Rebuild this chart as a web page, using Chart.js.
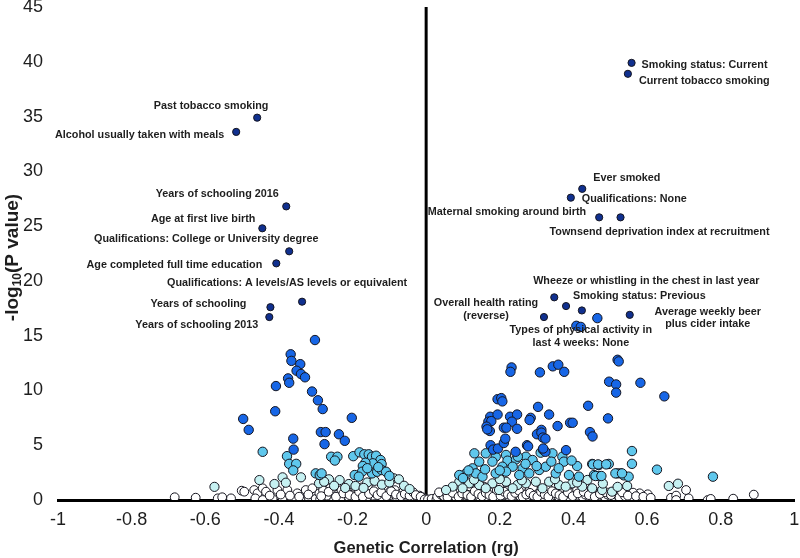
<!DOCTYPE html>
<html>
<head>
<meta charset="utf-8">
<script src="https://cdn.jsdelivr.net/npm/chart.js@4/dist/chart.umd.min.js"></script>
<style>
html,body{margin:0;padding:0;background:#fff;}
#wrap{width:800px;height:558px;}
</style>
</head>
<body>
<div id="wrap"><canvas id="c" width="800" height="558"></canvas></div>
<script>
// ---------- data ----------
const xTicks = [-1, -0.8, -0.6, -0.4, -0.2, 0, 0.2, 0.4, 0.6, 0.8, 1];
const xTickLabels = ["-1", "-0.8", "-0.6", "-0.4", "-0.2", "0", "0.2", "0.4", "0.6", "0.8", "1"];
const yTicks = [0, 5, 10, 15, 20, 25, 30, 35, 40, 45];
const yTickLabels = ["0", "5", "10", "15", "20", "25", "30", "35", "40", "45"];

const xTitle = "Genetic Correlation (rg)";
const yTitleParts = ["-log", "10", "(P value)"];

// labelled, most significant traits
const navyLabels = [
  "Past tobacco smoking", "Alcohol usually taken with meals", "Years of schooling 2016",
  "Age at first live birth", "Qualifications: College or University degree",
  "Age completed full time education", "Qualifications: A levels/AS levels or equivalent",
  "Years of schooling", "Years of schooling 2013",
  "Smoking status: Current", "Current tobacco smoking", "Ever smoked", "Qualifications: None",
  "Maternal smoking around birth", "Townsend deprivation index at recruitment",
  "Wheeze or whistling in the chest in last year", "Smoking status: Previous",
  "Overall health rating\n(reverse)", "Types of physical activity in\nlast 4 weeks: None",
  "Average weekly beer\nplus cider intake"
];
const navyX = [-0.459,-0.516,-0.380,-0.445,-0.372,-0.407,-0.337,-0.423,-0.426,
  0.558,0.548,0.424,0.393,0.470,0.528,0.348,0.380,0.320,0.423,0.553];
const navyY = [34.9,33.6,26.8,24.8,22.7,21.6,18.1,17.6,16.7,
  39.9,38.9,28.4,27.6,25.8,25.8,18.5,17.7,16.7,17.3,16.9];

const bluePts = [
  [-0.302,14.6],[-0.368,13.3],[-0.366,12.7],[-0.342,12.4],[-0.352,11.8],[-0.340,11.5],[-0.329,11.2],
  [-0.375,11.1],[-0.372,10.7],[-0.408,10.4],[-0.310,9.9],[-0.294,9.1],[-0.281,8.3],[-0.410,8.1],
  [-0.497,7.4],[-0.482,6.4],[-0.202,7.5],[-0.361,5.6],[-0.360,4.6],[-0.286,6.2],[-0.273,6.2],
  [-0.276,5.1],[-0.237,6.0],[-0.221,5.4],
  [0.465,16.6],[0.408,15.9],[0.420,15.8],
  [0.232,12.1],[0.229,11.7],[0.309,11.65],[0.344,12.2],[0.359,12.35],[0.375,11.7],[0.520,12.8],
  [0.523,12.65],[0.497,10.8],[0.516,10.55],[0.516,9.8],[0.194,9.2],[0.204,9.3],[0.207,9.0],
  [0.304,8.5],[0.440,8.6],[0.174,7.6],[0.194,7.8],[0.228,7.6],[0.247,7.8],[0.284,7.5],[0.334,7.8],
  [0.169,7.15],[0.177,7.2],[0.233,7.15],[0.391,7.05],[0.398,7.05],[0.494,7.45],[0.164,6.7],
  [0.211,6.6],[0.218,6.6],[0.247,6.5],[0.357,6.75],[0.313,6.4],[0.582,10.7],[0.647,9.46],
  [0.173,6.3],[0.166,6.45],[0.281,7.3],[0.301,6.0],[0.313,6.15],[0.317,5.7],[0.324,5.6],
  [0.445,6.2],[0.452,5.8],[0.175,5.0],[0.182,4.6],[0.195,4.7],[0.211,5.2],[0.215,5.6],
  [0.243,4.4],[0.274,5.0],[0.277,4.9],[0.317,4.6],[0.324,4.4],[0.380,4.55],[0.318,4.7]
];

const cyanPts = [
  [-0.444,4.4],[-0.378,4.0],[-0.372,3.3],[-0.353,3.3],[-0.361,2.7],[-0.258,3.95],[-0.241,3.95],
  [-0.248,3.6],[-0.198,4.0],[-0.181,4.35],[-0.168,4.17],[-0.156,4.17],[-0.147,3.95],[-0.136,4.04],
  [-0.124,3.65],[-0.121,3.28],[-0.145,3.35],[-0.165,3.4],[-0.172,3.1],[-0.147,2.43],[-0.133,2.58],
  [-0.121,2.74],[-0.109,2.58],[-0.174,2.58],[-0.194,2.28],[-0.183,2.13],[-0.300,2.43],[-0.289,2.28],
  [-0.284,2.43],[-0.160,2.9],[-0.130,3.0],[-0.100,2.2],
  [0.131,4.26],[0.162,4.26],[0.189,3.95],[0.217,4.11],[0.221,3.59],[0.244,3.71],[0.271,3.95],
  [0.289,3.65],[0.311,4.32],[0.343,4.26],[0.370,3.95],[0.374,3.5],[0.410,3.1],[0.451,3.29],
  [0.469,3.19],[0.496,3.29],[0.456,2.28],[0.469,2.19],[0.519,2.43],[0.144,3.5],[0.180,3.5],
  [0.207,3.04],[0.235,3.04],[0.262,2.89],[0.126,2.89],[0.108,2.43],[0.090,2.28],[0.135,2.43],
  [0.153,2.13],[0.189,2.43],[0.217,2.59],[0.253,2.28],[0.280,2.43],[0.307,2.74],[0.325,3.04],
  [0.352,2.43],[0.388,2.28],[0.415,2.13],[0.559,4.47],[0.559,3.3],[0.627,2.77],[0.779,2.13],
  [0.528,2.43],[0.537,2.25],[0.550,2.13],[0.453,3.25],[0.467,3.25],[0.489,3.25],[0.460,2.19],
  [0.476,2.19],[0.514,2.43],[0.532,2.43],[0.249,3.95],[0.100,2.0],[0.115,2.7],[0.160,2.8],
  [0.200,2.7],[0.270,3.3],[0.340,3.5],[0.395,3.6],[0.300,3.1],[0.360,2.9]
];

const palePts = [
  [-0.575,1.2],[-0.453,1.82],[-0.390,2.07],[-0.412,1.46],[-0.381,1.58],[-0.340,2.07],[-0.264,1.89],
  [-0.235,1.82],[-0.291,1.52],[-0.277,1.67],[-0.210,1.46],[-0.192,1.28],[-0.088,1.98],[-0.074,1.89],
  [-0.160,1.6],[-0.140,1.75],[-0.120,1.4],[-0.100,1.6],[-0.060,1.3],[-0.170,1.1],[-0.220,1.1],
  [-0.250,1.3],[-0.045,1.0],
  [0.438,1.83],[0.090,1.67],[0.117,1.52],[0.144,1.37],[0.180,1.52],[0.217,1.67],[0.248,1.37],
  [0.271,1.52],[0.298,1.67],[0.334,1.67],[0.361,1.37],[0.397,1.52],[0.424,1.22],[0.072,1.22],
  [0.054,0.91],[0.099,1.07],[0.162,1.07],[0.198,0.91],[0.235,1.07],[0.316,1.07],[0.379,1.22],
  [0.451,1.07],[0.478,0.91],[0.505,0.76],[0.546,1.28],[0.659,1.28],[0.684,1.49],[0.130,1.85],
  [0.200,1.9],[0.260,1.8],[0.350,1.9],[0.410,1.6],[0.480,1.5],[0.520,1.2]
];

const whitePts = [
  [-0.683,0.25],[-0.626,0.21],[-0.566,0.15],[-0.554,0.25],[-0.530,0.15],[-0.501,0.85],[-0.494,0.76],
  [-0.467,0.91],[-0.458,0.61],[-0.444,1.07],[-0.435,0.76],[-0.464,0.15],[-0.444,0.0],[-0.417,0.09],
  [-0.390,0.15],[-0.363,0.15],[-0.340,0.15],[-0.318,0.09],[-0.404,0.91],[-0.377,0.91],[-0.350,0.61],
  [-0.327,0.91],[-0.309,1.07],[-0.425,0.4],[-0.395,0.5],[-0.370,0.4],[-0.345,0.3],[-0.320,0.5],
  [-0.300,0.1],[-0.288,0.05],[-0.275,0.15],[-0.262,0.1],[-0.250,0.05],[-0.238,0.15],[-0.225,0.1],
  [-0.212,0.05],[-0.200,0.12],[-0.188,0.05],[-0.175,0.1],[-0.162,0.15],[-0.150,0.05],[-0.138,0.1],
  [-0.125,0.12],[-0.112,0.05],[-0.100,0.1],[-0.088,0.15],[-0.075,0.05],[-0.062,0.1],[-0.050,0.12],
  [-0.038,0.05],[-0.025,0.1],[-0.012,0.05],[-0.005,0.15],
  [-0.290,0.6],[-0.280,0.9],[-0.270,0.4],[-0.260,1.1],[-0.250,0.7],[-0.240,0.5],[-0.230,0.9],
  [-0.220,0.4],[-0.215,0.7],[-0.205,1.0],[-0.200,0.5],[-0.190,0.8],[-0.185,0.35],[-0.178,0.6],
  [-0.170,0.9],[-0.165,0.45],[-0.158,0.7],[-0.150,1.0],[-0.145,0.4],[-0.138,0.65],[-0.130,0.85],
  [-0.125,0.35],[-0.118,0.55],[-0.110,0.8],[-0.105,1.1],[-0.098,0.45],[-0.090,0.65],[-0.085,0.9],
  [-0.078,0.35],[-0.070,0.55],[-0.062,0.75],[-0.055,0.4],[-0.048,0.6],[-0.040,0.3],[-0.032,0.5],
  [-0.025,0.3],[-0.018,0.4],[-0.010,0.25],[-0.195,1.2],[-0.175,1.15],[-0.135,1.2],[-0.115,1.3],
  [-0.160,0.3],[-0.120,0.25],[-0.080,0.25],[-0.230,0.3],[-0.210,0.25],
  [-0.285,0.35],[-0.265,0.75],[-0.245,0.3],[-0.225,0.6],[-0.208,0.45],[-0.192,0.3],[-0.182,0.75],
  [-0.172,0.3],[-0.155,0.55],[-0.142,0.8],[-0.132,0.45],[-0.122,0.7],[-0.108,0.35],[-0.095,0.8],
  [-0.082,0.5],[-0.068,0.35],[-0.058,0.55],[-0.045,0.4],[-0.035,0.7],[-0.028,0.45],[-0.015,0.3],
  [0.000,0.0],[-0.004,0.05],[0.008,0.0],
  [0.005,0.05],[0.015,0.1],[0.028,0.05],[0.040,0.12],[0.052,0.05],[0.065,0.1],[0.078,0.15],
  [0.090,0.05],[0.102,0.1],[0.115,0.05],[0.128,0.12],[0.140,0.05],[0.152,0.1],[0.165,0.15],
  [0.178,0.05],[0.190,0.1],[0.203,0.05],[0.215,0.12],[0.228,0.05],[0.240,0.1],[0.253,0.15],
  [0.265,0.05],[0.278,0.1],[0.290,0.05],[0.303,0.12],[0.315,0.05],[0.328,0.1],[0.340,0.15],
  [0.353,0.05],[0.365,0.1],[0.378,0.05],[0.392,0.12],[0.405,0.05],[0.418,0.1],[0.432,0.05],
  [0.445,0.12],[0.460,0.05],[0.475,0.1],[0.490,0.05],[0.505,0.1],[0.520,0.05],[0.535,0.1],
  [0.550,0.05],[0.565,0.1],[0.575,0.06],[0.593,0.15],[0.602,0.52],[0.580,0.61],[0.562,0.67],
  [0.539,0.55],[0.521,0.46],[0.665,0.2],[0.679,0.4],[0.679,0.0],[0.706,0.91],[0.713,0.15],
  [0.765,0.0],[0.773,0.1],[0.834,0.12],[0.890,0.49],
  [0.030,0.3],[0.040,0.5],[0.048,0.35],[0.055,0.6],[0.062,0.4],[0.068,0.8],[0.075,0.5],[0.080,0.3],
  [0.085,0.95],[0.090,0.65],[0.095,0.4],[0.100,0.8],[0.105,0.55],[0.110,1.1],[0.115,0.35],[0.120,0.7],
  [0.125,0.9],[0.130,0.45],[0.135,0.6],[0.140,1.0],[0.145,0.3],[0.150,0.75],[0.155,0.5],[0.160,0.9],
  [0.165,0.35],[0.170,0.65],[0.175,1.1],[0.180,0.45],[0.185,0.8],[0.190,0.55],[0.195,0.3],[0.200,0.7],
  [0.205,1.0],[0.210,0.45],[0.215,0.6],[0.220,0.85],[0.225,0.3],[0.230,0.55],[0.235,0.75],[0.240,0.4],
  [0.245,1.0],[0.250,0.6],[0.255,0.35],[0.260,0.8],[0.265,0.5],[0.270,0.65],[0.275,0.3],[0.280,0.9],
  [0.285,0.45],[0.290,0.7],[0.295,0.35],[0.300,0.55],[0.305,0.8],[0.310,0.4],[0.315,0.6],[0.320,0.3],
  [0.325,0.75],[0.330,0.5],[0.335,0.9],[0.340,0.35],[0.345,0.6],[0.350,0.45],[0.355,0.75],[0.360,0.3],
  [0.365,0.55],[0.370,0.8],[0.375,0.4],[0.380,0.6],[0.388,0.3],[0.395,0.5],[0.402,0.75],[0.410,0.4],
  [0.418,0.6],[0.425,0.3],[0.432,0.5],[0.440,0.8],[0.448,0.35],[0.455,0.55],[0.462,0.7],[0.470,0.4],
  [0.478,0.6],[0.485,0.3],[0.492,0.5],[0.500,0.7],[0.508,0.35],[0.515,0.55],[0.525,0.25],[0.540,0.35],
  [0.118,1.25],[0.158,1.2],[0.198,1.25],[0.258,1.15],[0.290,1.2],[0.330,1.15],[0.370,1.1],[0.410,1.0],
  [0.450,0.9],
  [0.035,0.7],[0.058,0.25],[0.072,0.65],[0.088,0.3],[0.098,0.6],[0.112,0.45],[0.122,0.3],[0.132,0.8],
  [0.142,0.55],[0.152,0.35],[0.162,0.65],[0.172,0.45],[0.182,0.3],[0.192,0.9],[0.202,0.4],[0.212,0.75],
  [0.222,0.5],[0.232,0.35],[0.242,0.65],[0.252,0.85],[0.262,0.3],[0.272,0.5],[0.282,0.65],[0.292,0.4],
  [0.302,0.3],[0.312,0.75],[0.322,0.5],[0.332,0.3],[0.342,0.8],[0.352,0.6],[0.362,0.45],[0.372,0.3],
  [0.385,0.7],[0.398,0.35],[0.412,0.6],[0.428,0.75],[0.442,0.45],[0.458,0.3],[0.472,0.55],[0.488,0.7],
  [0.502,0.45],[0.532,0.7],[0.548,0.4],[0.570,0.35],[0.590,0.3],[0.610,0.2]
];

// the vertical zero line (rg = 0) spans the full y range
const zeroLineX = [0, 0];
const zeroLineY = [0, 45];

// ---------- chart ----------
const toXY = (xs, ys) => xs.map((x, i) => ({x: x, y: ys[i]}));
const pairs = arr => arr.map(p => ({x: p[0], y: p[1]}));

const EDGE = '#15151f';
function ptSet(label, data, fill, radius, order) {
  return {
    label: label, data: data, order: order,
    backgroundColor: fill, borderColor: EDGE, borderWidth: 1,
    pointRadius: radius, pointHoverRadius: radius, showLine: false
  };
}

// label placement (pixel offsets from each labelled point)
const labelPlacement = [
  {dx:-46, dy:-12, a:'center'}, {dx:-12, dy:3, a:'right'}, {dx:-69, dy:-12, a:'center'},
  {dx:-7, dy:-9, a:'right'}, {dx:-83, dy:-12, a:'center'}, {dx:-14, dy:2, a:'right'},
  {dx:-15, dy:-19, a:'center'}, {dx:-24, dy:-3, a:'right'}, {dx:-11, dy:8, a:'right'},
  {dx:10, dy:2, a:'left'}, {dx:11, dy:7, a:'left'}, {dx:11, dy:-11, a:'left'},
  {dx:11, dy:1, a:'left'}, {dx:-13, dy:-5, a:'right'}, {dx:39, dy:15, a:'center'},
  {dx:92, dy:-16, a:'center'}, {dx:7, dy:-10, a:'left'}, {dx:-58, dy:-14, a:'center'},
  {dx:-1, dy:20, a:'center'}, {dx:78, dy:-3, a:'center'}
];

const labelPlugin = {
  id: 'pointLabels',
  afterDatasetsDraw(chart) {
    const meta = chart.getDatasetMeta(1);
    const ctx = chart.ctx;
    ctx.save();
    ctx.font = 'bold 10.8px "Liberation Sans", Arial, sans-serif';
    ctx.fillStyle = '#1e1e1e';
    ctx.textBaseline = 'middle';
    meta.data.forEach((pt, i) => {
      const pl = labelPlacement[i];
      const lines = navyLabels[i].split('\n');
      ctx.textAlign = pl.a;
      lines.forEach((ln, k) => ctx.fillText(ln, pt.x + pl.dx, pt.y + pl.dy + k * 12.5));
    });
    ctx.restore();
  }
};

const yTitlePlugin = {
  id: 'yTitleSub',
  afterDraw(chart) {
    const ctx = chart.ctx;
    const area = chart.chartArea;
    const big = 'bold 19px "Liberation Sans", Arial, sans-serif';
    const small = 'bold 12px "Liberation Sans", Arial, sans-serif';
    ctx.save();
    ctx.font = big; const w1 = ctx.measureText(yTitleParts[0]).width;
    const w3 = ctx.measureText(yTitleParts[2]).width;
    ctx.font = small; const w2 = ctx.measureText(yTitleParts[1]).width;
    const total = w1 + w2 + w3;
    ctx.translate(13, (area.top + area.bottom) / 2 + 4);
    ctx.rotate(-Math.PI / 2);
    ctx.fillStyle = '#1e1e1e';
    ctx.textAlign = 'left';
    ctx.textBaseline = 'middle';
    let x = -total / 2;
    ctx.font = big; ctx.fillText(yTitleParts[0], x, 0); x += w1;
    ctx.font = small; ctx.fillText(yTitleParts[1], x, 5); x += w2;
    ctx.font = big; ctx.fillText(yTitleParts[2], x, 0);
    ctx.restore();
  }
};

new Chart(document.getElementById('c'), {
  type: 'scatter',
  data: {
    datasets: [
      {label: 'rg = 0', data: toXY(zeroLineX, zeroLineY), showLine: true, borderColor: '#000',
       borderWidth: 3, pointRadius: 0, pointHoverRadius: 0, order: 10, fill: false},
      ptSet('labelled', toXY(navyX, navyY), '#10308f', 3.6, 1),
      ptSet('strong', pairs(bluePts), '#1766e6', 4.7, 2),
      ptSet('moderate', pairs(cyanPts), '#5fc7ec', 4.7, 3),
      ptSet('weak', pairs(palePts), '#c6f1f2', 4.6, 4),
      ptSet('ns', pairs(whitePts), '#ffffff', 4.4, 5)
    ]
  },
  options: {
    responsive: false,
    animation: false,
    devicePixelRatio: 1,
    layout: {padding: {top: 7, right: 3, left: 0, bottom: 0}},
    plugins: {legend: {display: false}, tooltip: {enabled: false}, title: {display: false}},
    scales: {
      x: {
        type: 'linear', min: -1, max: 1,
        afterBuildTicks: s => { s.ticks = xTicks.map(v => ({value: v})); },
        afterFit: s => { s.height = 58; s.paddingLeft = 0; s.paddingRight = 0; },
        grid: {display: false, drawTicks: false},
        border: {display: true, color: '#000', width: 3},
        ticks: {
          padding: 9, color: '#1e1e1e', maxRotation: 0, autoSkip: false,
          font: {family: '"Liberation Sans", Arial, sans-serif', size: 18},
          callback: (v) => { const i = xTicks.findIndex(t => Math.abs(t - v) < 1e-9); return i >= 0 ? xTickLabels[i] : ''; }
        },
        title: {display: true, text: xTitle, color: '#1e1e1e', padding: {top: 0, bottom: 0},
          font: {family: '"Liberation Sans", Arial, sans-serif', size: 16.5, weight: 'bold'}}
      },
      y: {
        type: 'linear', min: 0, max: 45,
        afterBuildTicks: s => { s.ticks = yTicks.map(v => ({value: v})); },
        afterFit: s => { s.width = 58; s.paddingTop = 0; s.paddingBottom = 0; },
        grid: {display: false, drawTicks: false},
        border: {display: false},
        ticks: {
          padding: 15, color: '#1e1e1e', autoSkip: false,
          font: {family: '"Liberation Sans", Arial, sans-serif', size: 18},
          callback: (v) => { const i = yTicks.indexOf(v); return i >= 0 ? yTickLabels[i] : ''; }
        },
        title: {display: false}
      }
    }
  },
  plugins: [labelPlugin, yTitlePlugin]
});
</script>
</body>
</html>
